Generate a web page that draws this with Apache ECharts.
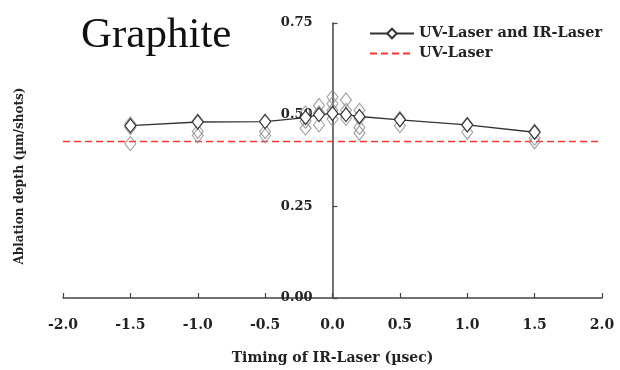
<!DOCTYPE html>
<html><head><meta charset="utf-8">
<script src="https://cdn.jsdelivr.net/npm/echarts@6/dist/echarts.min.js"></script>
<style>html,body{margin:0;padding:0;background:#fff}#c{width:620px;height:370px}</style>
</head><body><div id="c"></div>
<script>
// ---- data ----
const titleText = 'Graphite';
const xAxisTitle = 'Timing of IR-Laser (\u00b5sec)';
const yAxisTitle = 'Ablation depth (\u00b5m/shots)';
const seriesNames = ['UV-Laser and IR-Laser', 'UV-Laser'];
const xTicks = [-2.0, -1.5, -1.0, -0.5, 0.0, 0.5, 1.0, 1.5, 2.0];
const yTicks = [0.00, 0.25, 0.50, 0.75];
// mean curve (UV + IR)
const meanX = [-1.5, -1.0, -0.5, -0.2, -0.1, 0.0, 0.1, 0.2, 0.5, 1.0, 1.5];
const meanY = [0.470, 0.480, 0.481, 0.492, 0.500, 0.503, 0.500, 0.495, 0.486, 0.472, 0.452];
// individual measurements (UV + IR)
const measX = [-1.5, -1.5, -1.5, -1.0, -1.0, -1.0, -0.5, -0.5, -0.5,
               -0.2, -0.2, -0.2, -0.1, -0.1, -0.1, 0.0, 0.0, 0.0, 0.0,
               0.1, 0.1, 0.1, 0.2, 0.2, 0.2, 0.2,
               0.5, 0.5, 1.0, 1.0, 1.5, 1.5, 1.5];
const measY = [0.475, 0.465, 0.421, 0.483, 0.454, 0.443, 0.483, 0.454, 0.443,
               0.505, 0.482, 0.463, 0.525, 0.505, 0.472, 0.548, 0.530, 0.512, 0.488,
               0.540, 0.512, 0.490, 0.512, 0.490, 0.465, 0.450,
               0.490, 0.470, 0.474, 0.452, 0.455, 0.436, 0.426];
// UV-Laser only reference level
const uvX = [-2.0, 2.0];
const uvY = [0.427, 0.427];

// ---- chart ----
const ser = (xs, ys) => xs.map((x, i) => [x, ys[i]]);
const serif = 'DejaVu Serif';
const axisCol = '#444';
const W = 620, gridL = 63, gridR = 18;
const xMin = xTicks[0], xMax = xTicks[xTicks.length - 1];
// y-axis crosses at x = 0: shift it right from the grid's left edge
const yAxisShift = (0 - xMin) / (xMax - xMin) * (W - gridL - gridR);
const chart = echarts.init(document.getElementById('c'), null, {renderer: 'canvas'});
chart.setOption({
  animation: false,
  backgroundColor: '#fff',
  title: {
    text: titleText, left: 76, top: 9,
    textStyle: {fontFamily: 'Liberation Serif', fontSize: 43, fontWeight: 'normal', color: '#111'}
  },
  legend: {
    orient: 'vertical', left: 364, top: 21, itemWidth: 44, itemHeight: 12, itemGap: 5,
    data: [
      {name: seriesNames[0]},
      {name: seriesNames[1], itemStyle: {color: 'rgba(0,0,0,0)', borderWidth: 0, opacity: 0}}
    ],
    textStyle: {fontFamily: serif, fontWeight: 'bold', fontSize: 14.5, color: '#222'}
  },
  grid: {left: gridL, right: gridR, top: 23, bottom: 69},
  xAxis: {
    type: 'value', min: xMin, max: xMax, interval: 0.5,
    name: xAxisTitle, nameLocation: 'middle', nameGap: 53,
    nameTextStyle: {fontFamily: serif, fontWeight: 'bold', fontSize: 14, color: '#222'},
    axisLine: {onZero: false, lineStyle: {color: axisCol, width: 1.5}},
    axisTick: {inside: true, length: 5, lineStyle: {color: axisCol, width: 1.2}},
    axisLabel: {margin: 20, fontFamily: serif, fontWeight: 'bold', fontSize: 14, color: '#222',
      formatter: v => v.toFixed(1)},
    splitLine: {show: false}
  },
  yAxis: {
    type: 'value', min: yTicks[0], max: yTicks[yTicks.length - 1], interval: 0.25,
    offset: -yAxisShift,
    axisLine: {show: true, onZero: false, lineStyle: {color: axisCol, width: 1.5}},
    axisTick: {show: true, inside: true, length: 5, lineStyle: {color: axisCol, width: 1.2}},
    axisLabel: {margin: 20, fontFamily: serif, fontWeight: 'bold', fontSize: 13, color: '#222',
      formatter: v => v.toFixed(2)},
    splitLine: {show: false}
  },
  graphic: [{
    type: 'text', rotation: Math.PI / 2,
    x: 20, y: 176,
    style: {text: yAxisTitle, fontFamily: serif, fontWeight: 'bold', fontSize: 12, fill: '#222',
      textAlign: 'center', textVerticalAlign: 'middle'}
  }],
  series: [
    {
      name: seriesNames[0], type: 'line', data: ser(meanX, meanY), z: 3,
      symbol: 'diamond', symbolSize: [11, 14], showAllSymbol: true,
      lineStyle: {color: '#333', width: 1.3},
      itemStyle: {color: '#fff', borderColor: '#333', borderWidth: 1.2}
    },
    {
      name: 'meas', type: 'scatter', data: ser(measX, measY), z: 2,
      symbol: 'diamond', symbolSize: [11, 14],
      itemStyle: {color: 'rgba(255,255,255,0)', borderColor: '#888', borderWidth: 1.1}
    },
    {
      name: seriesNames[1], type: 'line', data: ser(uvX, uvY), z: 1,
      symbol: 'none',
      lineStyle: {color: '#ff3535', width: 1.4, type: [7, 4]},
      itemStyle: {color: '#ff3535'}
    }
  ]
});
</script></body></html>
